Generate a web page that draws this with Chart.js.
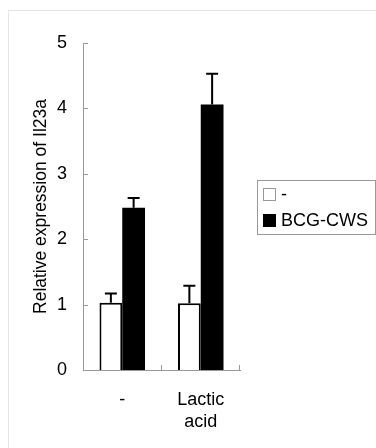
<!DOCTYPE html>
<html>
<head>
<meta charset="utf-8">
<script src="https://cdn.jsdelivr.net/npm/chart.js@4.4.1/dist/chart.umd.min.js"></script>
<style>
  body { margin: 0; background: #fff; }
  #frame { position: absolute; left: 8px; top: 10px; right: 0; bottom: 0; border-left: 1px solid #e6e6e6; border-top: 1px solid #e6e6e6; }
  #wrap { position: absolute; left: 0; top: 0; width: 376px; height: 448px; }
</style>
</head>
<body>
<div id="frame"></div>
<div id="wrap"><canvas id="myChart" width="376" height="448"></canvas></div>
<script>
const categories = ['-', ['Lactic', 'acid']];
const seriesNames = ['-', 'BCG-CWS'];
const controlValues = [1.03, 1.02];
const controlErrors = [0.14, 0.27];
const bcgValues = [2.48, 4.06];
const bcgErrors = [0.15, 0.47];
const yTicks = [0, 1, 2, 3, 4, 5];

const ctx = document.getElementById('myChart');
const font = 'Liberation Sans, Arial, sans-serif';
const axisColor = '#999999';

const errorBars = {
    id: 'errorBars',
    afterDatasetsDraw(chart) {
        const c = chart.ctx;
        const y = chart.scales.y;
        c.save();
        c.strokeStyle = '#000';
        c.lineWidth = 2;
        chart.data.datasets.forEach((ds, di) => {
            const meta = chart.getDatasetMeta(di);
            meta.data.forEach((bar, i) => {
                const top = y.getPixelForValue(ds.data[i] + ds.errors[i]);
                c.beginPath();
                c.moveTo(bar.x, bar.y);
                c.lineTo(bar.x, top);
                c.moveTo(bar.x - 6, top);
                c.lineTo(bar.x + 6, top);
                c.stroke();
            });
        });
        c.restore();
    }
};

const innerTicks = {
    id: 'innerTicks',
    afterDraw(chart) {
        const c = chart.ctx;
        const area = chart.chartArea;
        const y = chart.scales.y;
        c.save();
        c.strokeStyle = axisColor;
        c.lineWidth = 1;
        c.beginPath();
        yTicks.forEach(v => {
            const py = Math.round(y.getPixelForValue(v)) + 0.5;
            c.moveTo(area.left, py);
            c.lineTo(area.left + 5, py);
        });
        const w = (area.right - area.left) / categories.length;
        for (let k = 1; k <= categories.length; k++) {
            const px = Math.round(area.left + k * w) - 0.5;
            c.moveTo(px, area.bottom);
            c.lineTo(px, area.bottom - 5);
        }
        c.stroke();

        // legend
        const lx = area.right + 17, ly = area.top + 137;
        const lw = 118, lh = 54;
        c.strokeStyle = axisColor;
        c.strokeRect(lx + 0.5, ly + 0.5, lw, lh);
        c.font = '18px ' + font;
        c.textBaseline = 'middle';
        chart.data.datasets.forEach((ds, i) => {
            const cy = ly + 14 + i * 26;
            c.fillStyle = ds.backgroundColor;
            c.fillRect(lx + 6, cy - 6, 13, 13);
            c.strokeStyle = i === 0 ? '#999' : '#000';
            c.strokeRect(lx + 6.5, cy - 5.5, 12, 12);
            c.fillStyle = '#000';
            c.fillText(ds.label, lx + 24, cy + 1);
        });
        c.restore();
    }
};

new Chart(ctx, {
    type: 'bar',
    data: {
        labels: categories,
        datasets: [{
            label: seriesNames[0],
            data: controlValues,
            errors: controlErrors,
            backgroundColor: '#ffffff',
            borderColor: '#000000',
            borderWidth: 2,
            borderSkipped: 'bottom'
        }, {
            label: seriesNames[1],
            data: bcgValues,
            errors: bcgErrors,
            backgroundColor: '#000000',
            borderColor: '#000000',
            borderWidth: 0
        }]
    },
    options: {
        responsive: false,
        animation: false,
        categoryPercentage: 0.58,
        barPercentage: 1.0,
        layout: { padding: { left: 10, top: 43, right: 136, bottom: 0 } },
        plugins: {
            legend: { display: false },
            tooltip: { enabled: false }
        },
        scales: {
            x: {
                grid: { display: false, drawTicks: false },
                border: { color: axisColor, width: 1 },
                ticks: { color: '#000', font: { family: font, size: 18, lineHeight: 1.22 }, padding: 19 },
                afterFit: s => { s.height = 78; }
            },
            y: {
                min: 0,
                max: 5,
                afterBuildTicks: s => { s.ticks = yTicks.map(v => ({ value: v })); },
                grid: { display: false, drawTicks: false },
                border: { color: axisColor, width: 1 },
                ticks: { color: '#000', font: { family: font, size: 18 }, padding: 16 },
                title: {
                    display: true,
                    text: 'Relative expression of Il23a',
                    color: '#000',
                    font: { family: font, size: 17.5 },
                    padding: { top: 21, bottom: 0 }
                },
                afterFit: s => { s.width = 73; }
            }
        }
    },
    plugins: [errorBars, innerTicks]
});
</script>
</body>
</html>
